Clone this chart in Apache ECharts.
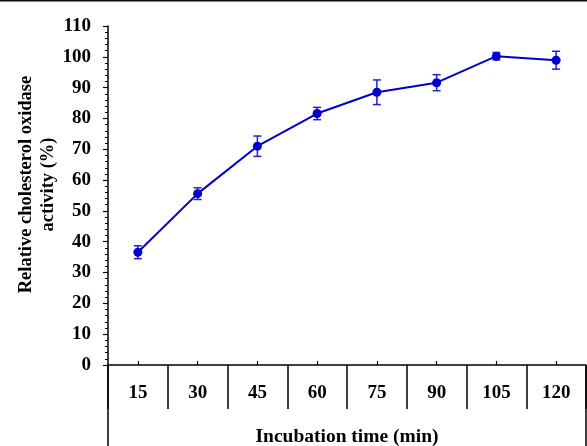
<!DOCTYPE html>
<html>
<head>
<meta charset="utf-8">
<script src="https://cdn.jsdelivr.net/npm/echarts@6/dist/echarts.min.js"></script>
<style>
html,body{margin:0;padding:0;background:#fff;}
#chart{width:587px;height:446px;}
</style>
</head>
<body>
<div id="chart"></div>
<script>
var categories = ['15', '30', '45', '60', '75', '90', '105', '120'];
var activity = [36.6, 55.6, 71.0, 81.6, 88.5, 91.6, 100.2, 98.9];
var errors = [2.1, 1.9, 3.3, 2.0, 4.0, 2.6, 1.2, 2.9];
var yTicks = [0, 110, 10];

var FONT = '"Liberation Serif", "Times New Roman", serif';
var chart = echarts.init(document.getElementById('chart'));

var errorData = categories.map(function (c, i) {
  return [i, activity[i] - errors[i], activity[i] + errors[i]];
});

chart.setOption({
  animation: false,
  backgroundColor: '#fff',
  grid: { left: 108, right: 1, top: 26, bottom: 81, containLabel: false, outerBoundsMode: 'none' },
  xAxis: [{
    type: 'category',
    data: categories,
    position: 'bottom',
    name: 'Incubation time (min)',
    nameLocation: 'middle',
    nameGap: 62,
    nameTextStyle: { fontFamily: FONT, fontWeight: 'bold', fontSize: 19.5, color: '#000' },
    axisLine: { lineStyle: { color: '#000', width: 1.5 } },
    axisTick: { show: true, inside: true, alignWithLabel: true, length: 4, lineStyle: { color: '#000', width: 1.2 } },
    axisLabel: { fontFamily: FONT, fontWeight: 'bold', fontSize: 19, color: '#000', margin: 19 },
    splitLine: { show: false }
  }, {
    type: 'category',
    data: categories,
    position: 'bottom',
    axisLine: { show: false },
    axisTick: { show: true, inside: false, length: 44, lineStyle: { color: '#000', width: 1.5 } },
    axisLabel: { show: false },
    splitLine: { show: false }
  }],
  yAxis: {
    type: 'value',
    min: yTicks[0],
    max: yTicks[1],
    interval: yTicks[2],
    name: 'Relative cholesterol oxidase\nactivity (%)',
    nameLocation: 'middle',
    nameGap: 49,
    nameMoveOverlap: false,
    nameTextStyle: { fontFamily: FONT, fontWeight: 'bold', fontSize: 18.5, color: '#000', lineHeight: 22, padding: [0, 0, 0, 22] },
    axisLine: { show: true, lineStyle: { color: '#000', width: 1.5 } },
    axisTick: { show: true, length: 5, lineStyle: { color: '#000', width: 1.2 } },
    minorTick: { show: true, splitNumber: 5, length: 3, lineStyle: { color: '#000', width: 1 } },
    axisLabel: { fontFamily: FONT, fontWeight: 'bold', fontSize: 19, color: '#000', margin: 17 },
    splitLine: { show: false }
  },
  graphic: [
    { type: 'line', shape: { x1: 0, y1: 0.75, x2: 587, y2: 0.75 }, style: { stroke: '#111', lineWidth: 1.5 } },
    { type: 'line', shape: { x1: 108, y1: 365, x2: 108, y2: 446 }, style: { stroke: '#000', lineWidth: 1.5 } },
    { type: 'line', shape: { x1: 586, y1: 365, x2: 586, y2: 446 }, style: { stroke: '#000', lineWidth: 1.5 } }
  ],
  series: [{
    type: 'line',
    data: activity,
    symbol: 'circle',
    symbolSize: 9,
    itemStyle: { color: '#0000CC' },
    lineStyle: { color: '#0000CC', width: 2 },
    z: 3
  }, {
    type: 'custom',
    data: errorData,
    z: 2,
    renderItem: function (params, api) {
      var x = api.value(0);
      var lo = api.coord([x, api.value(1)]);
      var hi = api.coord([x, api.value(2)]);
      var w = 4;
      var st = { stroke: '#2222CC', lineWidth: 1.5 };
      return {
        type: 'group',
        children: [
          { type: 'line', shape: { x1: lo[0], y1: lo[1], x2: hi[0], y2: hi[1] }, style: st },
          { type: 'line', shape: { x1: lo[0] - w, y1: lo[1], x2: lo[0] + w, y2: lo[1] }, style: st },
          { type: 'line', shape: { x1: hi[0] - w, y1: hi[1], x2: hi[0] + w, y2: hi[1] }, style: st }
        ]
      };
    }
  }]
});
</script>
</body>
</html>
